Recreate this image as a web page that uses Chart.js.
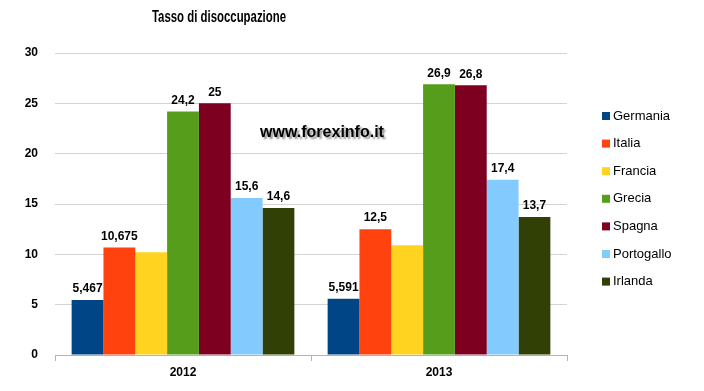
<!DOCTYPE html>
<html>
<head>
<meta charset="utf-8">
<script src="https://cdn.jsdelivr.net/npm/chart.js@4.4.0/dist/chart.umd.min.js"></script>
<style>
  body { margin: 0; background: #fff; }
  #wrap { width: 704px; height: 391px; }
</style>
</head>
<body>
<div id="wrap"><canvas id="chart" width="704" height="391"></canvas></div>
<script>
// data
const years = ['2012', '2013'];
const countries = ['Germania', 'Italia', 'Francia', 'Grecia', 'Spagna', 'Portogallo', 'Irlanda'];
const germania = [5.467, 5.591];
const italia = [10.675, 12.5];
const francia = [10.2, 10.9];
const grecia = [24.2, 26.9];
const spagna = [25, 26.8];
const portogallo = [15.6, 17.4];
const irlanda = [14.6, 13.7];
const yTicks = [0, 5, 10, 15, 20, 25, 30];
// Francia has no value label in the original
const showValue = [true, true, false, true, true, true, true];

const colors = ['#004586', '#ff420e', '#ffd320', '#579d1c', '#7e0021', '#83caff', '#314004'];
const series = [germania, italia, francia, grecia, spagna, portogallo, irlanda];

const FONT = "'Liberation Sans', Arial, sans-serif";

const valueLabels = {
    id: 'valueLabels',
    afterDatasetsDraw(chart) {
        const ctx = chart.ctx;
        ctx.save();
        ctx.font = 'bold 12px ' + FONT;
        ctx.fillStyle = '#000';
        ctx.textAlign = 'center';
        ctx.textBaseline = 'bottom';
        chart.data.datasets.forEach((ds, i) => {
            if (!showValue[i]) return;
            chart.getDatasetMeta(i).data.forEach((bar, j) => {
                const txt = String(ds.data[j]).replace('.', ',');
                ctx.fillText(txt, bar.x, bar.y - 5);
            });
        });
        ctx.restore();
    }
};

const decorations = {
    id: 'decorations',
    afterDraw(chart) {
        const ctx = chart.ctx;
        ctx.save();
        // title (narrow in the original, so squeeze it)
        ctx.font = 'bold 16px ' + FONT;
        ctx.fillStyle = '#000';
        ctx.textAlign = 'center';
        ctx.textBaseline = 'middle';
        ctx.fillText('Tasso di disoccupazione', 219, 18, 134);

        // watermark
        ctx.font = 'bold 16px ' + FONT;
        ctx.shadowColor = 'rgba(0,0,0,0.45)';
        ctx.shadowBlur = 2;
        ctx.shadowOffsetX = 2;
        ctx.shadowOffsetY = 2;
        ctx.fillText('www.forexinfo.it', 322, 133);
        ctx.restore();

        // legend
        ctx.save();
        ctx.font = '13px ' + FONT;
        ctx.textBaseline = 'middle';
        ctx.textAlign = 'left';
        chart.data.datasets.forEach((ds, i) => {
            const y = 116 + i * 27.6;
            ctx.fillStyle = ds.backgroundColor;
            ctx.fillRect(602, y - 4, 8, 8);
            ctx.fillStyle = '#000';
            ctx.fillText(ds.label, 613, y);
        });
        ctx.restore();
    }
};

new Chart(document.getElementById('chart'), {
    type: 'bar',
    data: {
        labels: years,
        datasets: countries.map((name, i) => ({
            label: name,
            data: series[i],
            backgroundColor: colors[i],
            borderWidth: 0,
            categoryPercentage: 0.87,
            barPercentage: 1.0,
        })),
    },
    options: {
        responsive: false,
        devicePixelRatio: 1,
        animation: false,
        layout: { padding: { top: 53, right: 137, left: 0, bottom: 0 } },
        plugins: {
            legend: { display: false },
            title: { display: false },
            tooltip: { enabled: false },
        },
        scales: {
            x: {
                grid: {
                    offset: true,
                    drawOnChartArea: false,
                    color: '#b3b3b3',
                    tickLength: 6,
                },
                border: { color: '#b3b3b3' },
                ticks: {
                    font: { family: FONT, size: 12, weight: 'bold' },
                    color: '#000',
                    padding: 4,
                },
                afterFit(scale) { scale.height = 36; },
            },
            y: {
                min: 0,
                max: 30,
                afterBuildTicks(scale) { scale.ticks = yTicks.map(v => ({ value: v })); },
                grid: { color: '#d3d3d3', drawTicks: false },
                border: { display: false },
                ticks: {
                    font: { family: FONT, size: 12, weight: 'bold' },
                    color: '#000',
                    padding: 17,
                },
                afterFit(scale) { scale.width = 55; },
            },
        },
    },
    plugins: [valueLabels, decorations],
});
</script>
</body>
</html>
